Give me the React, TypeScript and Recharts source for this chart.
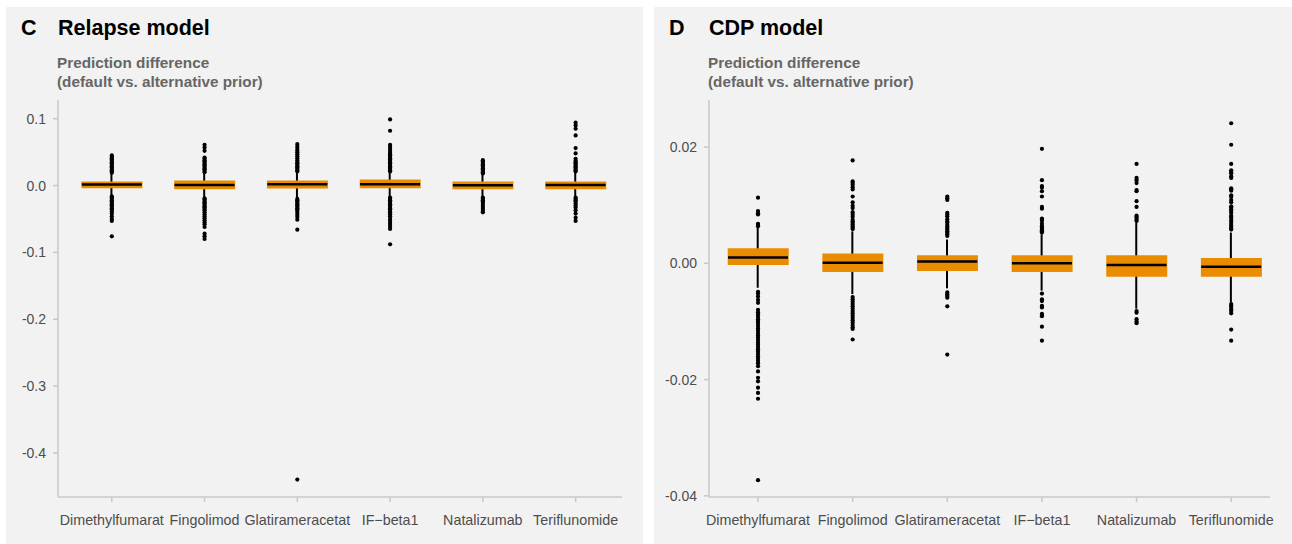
import { ComposedChart, Bar, Scatter, XAxis, YAxis } from 'recharts';

const categories = ['Dimethylfumarat', 'Fingolimod', 'Glatirameracetat', 'IF\u2212beta1', 'Natalizumab', 'Teriflunomide'];
const positions = [1, 2, 3, 4, 5, 6];

// Relapse model (panel C)
const relapseQ1 = [-0.004, -0.0055, -0.0045, -0.004, -0.0055, -0.0055];
const relapseQ3 = [0.006, 0.0075, 0.0075, 0.009, 0.006, 0.006];
const relapseMedian = [0.0015, 0.001, 0.002, 0.002, 0.0005, 0.001];
const relapseLow = [-0.015, -0.018, -0.019, -0.017, -0.017, -0.017];
const relapseHigh = [0.017, 0.019, 0.019, 0.019, 0.017, 0.019];
const relapseOutliers = [
  [0.045, 0.043, 0.041, 0.039, 0.037, 0.035, 0.033, 0.031, 0.029, 0.027, 0.025, 0.023, 0.021, 0.019,
    -0.016, -0.018, -0.02, -0.022, -0.024, -0.026, -0.028, -0.03, -0.032, -0.034, -0.036, -0.039, -0.042, -0.046, -0.05, -0.053, -0.076],
  [0.061, 0.057, 0.052, 0.042, 0.04, 0.038, 0.036, 0.034, 0.032, 0.03, 0.028, 0.026, 0.024, 0.022, 0.02,
    -0.019, -0.021, -0.023, -0.025, -0.027, -0.029, -0.031, -0.033, -0.035, -0.037, -0.04, -0.043, -0.046, -0.049, -0.052, -0.055, -0.058, -0.062, -0.072, -0.076, -0.08],
  [0.062, 0.059, 0.056, 0.053, 0.05, 0.047, 0.044, 0.041, 0.038, 0.035, 0.033, 0.031, 0.029, 0.027, 0.025, 0.023, 0.021,
    -0.02, -0.022, -0.024, -0.026, -0.028, -0.03, -0.032, -0.034, -0.036, -0.038, -0.041, -0.044, -0.047, -0.051, -0.066, -0.44],
  [0.099, 0.082, 0.061, 0.058, 0.055, 0.052, 0.049, 0.047, 0.045, 0.043, 0.041, 0.039, 0.037, 0.035, 0.033, 0.031, 0.029, 0.027, 0.025, 0.023, 0.021,
    -0.018, -0.02, -0.022, -0.024, -0.026, -0.028, -0.03, -0.032, -0.034, -0.036, -0.038, -0.04, -0.043, -0.046, -0.05, -0.053, -0.056, -0.059, -0.062, -0.065, -0.088],
  [0.038, 0.036, 0.034, 0.032, 0.03, 0.028, 0.026, 0.024, 0.022, 0.02, 0.018,
    -0.018, -0.02, -0.022, -0.024, -0.026, -0.029, -0.032, -0.035, -0.038, -0.04],
  [0.094, 0.09, 0.085, 0.075, 0.056, 0.048, 0.04, 0.037, 0.035, 0.033, 0.031, 0.029, 0.027, 0.025, 0.023, 0.021,
    -0.018, -0.02, -0.022, -0.024, -0.027, -0.03, -0.033, -0.037, -0.042, -0.048, -0.053],
];
const relapseTicks = [-0.4, -0.3, -0.2, -0.1, 0, 0.1];

// CDP model (panel D)
const cdpQ1 = [-0.0003, -0.0015, -0.0013, -0.0015, -0.0023, -0.0023];
const cdpQ3 = [0.0026, 0.0017, 0.0014, 0.0014, 0.0014, 0.0009];
const cdpMedian = [0.001, 0.0001, 0.0003, 0.0, -0.0003, -0.0006];
const cdpLow = [-0.0042, -0.0053, -0.0043, -0.0047, -0.0078, -0.0067];
const cdpHigh = [0.0062, 0.0055, 0.0041, 0.005, 0.007, 0.0053];
const cdpOutliers = [
  [0.0113, 0.009, 0.0086, 0.0084, 0.0068, 0.0066, 0.0064,
    -0.0049, -0.0052, -0.0057, -0.0063, -0.0068, -0.008, -0.0084, -0.0088, -0.0092, -0.0096, -0.01, -0.0104, -0.0108, -0.0112,
    -0.0116, -0.012, -0.0124, -0.0128, -0.0132, -0.0136, -0.014, -0.0144, -0.0148, -0.0152, -0.0156, -0.016, -0.0164, -0.0168,
    -0.0172, -0.0177, -0.0186, -0.0197, -0.0203, -0.0214, -0.0223, -0.0233, -0.0373],
  [0.0177, 0.0141, 0.0138, 0.0135, 0.0131, 0.0127, 0.0115, 0.0105, 0.0099, 0.0095, 0.0088, 0.0084, 0.008, 0.0075, 0.0072, 0.007, 0.0067, 0.0064, 0.0061, 0.0059,
    -0.0058, -0.0062, -0.0066, -0.007, -0.0074, -0.0078, -0.0082, -0.0086, -0.009, -0.0094, -0.0098, -0.0102, -0.0106, -0.011, -0.0113, -0.0131],
  [0.0115, 0.0112, 0.0109, 0.0087, 0.0084, 0.0081, 0.0076, 0.0072, 0.007, 0.0066, 0.0063, 0.0061, 0.0058, 0.0055, 0.0053, 0.005, 0.0047,
    -0.005, -0.0053, -0.0056, -0.0059, -0.0074, -0.0157],
  [0.0197, 0.0143, 0.0133, 0.013, 0.0124, 0.0115, 0.0097, 0.0094, 0.0077, 0.0075, 0.0073, 0.0068, 0.0064, 0.0061, 0.0059, 0.0057, 0.0055, 0.0053,
    -0.0052, -0.0062, -0.0065, -0.0073, -0.0076, -0.0087, -0.0089, -0.0091, -0.0109, -0.0133],
  [0.0171, 0.0147, 0.0143, 0.0138, 0.0126, 0.0124, 0.0107, 0.0097, 0.0082, 0.008, 0.0078, 0.0075, 0.0073,
    -0.0082, -0.0085, -0.0096, -0.01, -0.0103],
  [0.0241, 0.0204, 0.0171, 0.016, 0.0157, 0.0155, 0.015, 0.0147, 0.0129, 0.0127, 0.0125, 0.0117, 0.0114, 0.0109, 0.0105, 0.0098,
    0.0096, 0.0093, 0.009, 0.0087, 0.0082, 0.008, 0.0078, 0.0074, 0.007, 0.0066, 0.0063, 0.006, 0.0058,
    -0.007, -0.0073, -0.0075, -0.0079, -0.0082, -0.0086, -0.0114, -0.0133],
];
const cdpTicks = [-0.04, -0.02, 0, 0.02];

const BOX = '#EA8C00';
const AXIS = '#c8c8c8';
const TEXT = '#4d4d4d';
const FONT = '"Liberation Sans", Arial, sans-serif';

interface PanelProps {
  letter: string;
  title: string;
  q1: number[];
  q3: number[];
  median: number[];
  low: number[];
  high: number[];
  outliers: number[][];
  yDomain: [number, number];
  yTicks: number[];
  digits: number;
  xDomain: [number, number];
  width: number;
  yAxisWidth: number;
  marginRight: number;
  left: number;
}

function Panel(p: PanelProps) {
  const rows = positions.map((x, i) => ({
    x,
    box: [p.q1[i], p.q3[i]],
    whisker: [p.low[i], p.high[i]],
  }));
  const medians = positions.map((x, i) => ({ x, y: p.median[i] }));
  const points = p.outliers.flatMap((vals, i) => vals.map((y) => ({ x: positions[i], y })));
  const xProps = {
    type: 'number' as const,
    dataKey: 'x',
    domain: p.xDomain,
    ticks: positions,
    allowDataOverflow: true,
  };
  const titleStyle = { position: 'absolute' as const, top: 11, fontSize: 21.5, lineHeight: '21px', fontWeight: 'bold' as const, color: '#000' };

  return (
    <div style={{ position: 'absolute', left: p.left, top: 7, width: p.width, height: 537, background: '#f2f2f2', fontFamily: FONT }}>
      <div style={{ ...titleStyle, left: 15 }}>{p.letter}</div>
      <div style={{ ...titleStyle, left: p.yAxisWidth }}>{p.title}</div>
      <div style={{ position: 'absolute', left: p.yAxisWidth - 1, top: 46, fontSize: 15.3, lineHeight: '19px', fontWeight: 'bold', color: '#666' }}>
        Prediction difference
        <br />
        (default vs. alternative prior)
      </div>
      <div style={{ position: 'absolute', left: 0, top: 0 }}>
        <ComposedChart width={p.width} height={537} data={rows} margin={{ top: 93, right: p.marginRight, bottom: 7, left: 0 }}>
          <XAxis
            {...xProps}
            xAxisId="main"
            interval={0}
            height={40}
            tickSize={5}
            tickMargin={13}
            stroke={AXIS}
            strokeWidth={1.5}
            tick={{ fill: TEXT, fontSize: 14.3, fontFamily: FONT }}
            tickFormatter={(v: number) => categories[v - 1]}
          />
          <XAxis {...xProps} xAxisId="whisker" hide height={0} />
          <XAxis {...xProps} xAxisId="box" hide height={0} />
          <YAxis
            type="number"
            domain={p.yDomain}
            ticks={p.yTicks}
            width={p.yAxisWidth}
            interval={0}
            tickSize={5}
            tickMargin={7}
            stroke={AXIS}
            strokeWidth={1.5}
            tick={{ fill: TEXT, fontSize: 14, fontFamily: FONT }}
            tickFormatter={(v: number) => v.toFixed(p.digits)}
          />
          <Bar xAxisId="whisker" dataKey="whisker" barSize={2} fill="#000" isAnimationActive={false} />
          <Bar xAxisId="box" dataKey="box" barSize={61} fill={BOX} isAnimationActive={false} />
          <Scatter
            xAxisId="main"
            data={medians}
            dataKey="y"
            isAnimationActive={false}
            shape={(s: any) => <line x1={s.cx - 30} x2={s.cx + 30} y1={s.cy} y2={s.cy} stroke="#000" strokeWidth={2.5} />}
          />
          <Scatter
            xAxisId="main"
            data={points}
            dataKey="y"
            isAnimationActive={false}
            shape={(s: any) => <circle cx={s.cx} cy={s.cy} r={2.1} fill="#000" />}
          />
        </ComposedChart>
      </div>
    </div>
  );
}

export default function App() {
  return (
    <div style={{ position: 'relative', width: 1292, height: 544 }}>
      <style>{'body{margin:0}'}</style>
      <Panel
        letter="C"
        title="Relapse model"
        q1={relapseQ1}
        q3={relapseQ3}
        median={relapseMedian}
        low={relapseLow}
        high={relapseHigh}
        outliers={relapseOutliers}
        yDomain={[-0.466, 0.128]}
        yTicks={relapseTicks}
        digits={1}
        xDomain={[0.42, 6.5]}
        width={637}
        yAxisWidth={52}
        marginRight={21}
        left={6}
      />
      <Panel
        letter="D"
        title="CDP model"
        q1={cdpQ1}
        q3={cdpQ3}
        median={cdpMedian}
        low={cdpLow}
        high={cdpHigh}
        outliers={cdpOutliers}
        yDomain={[-0.0402, 0.0281]}
        yTicks={cdpTicks}
        digits={2}
        xDomain={[0.482, 6.41]}
        width={638}
        yAxisWidth={55}
        marginRight={22}
        left={654}
      />
    </div>
  );
}
